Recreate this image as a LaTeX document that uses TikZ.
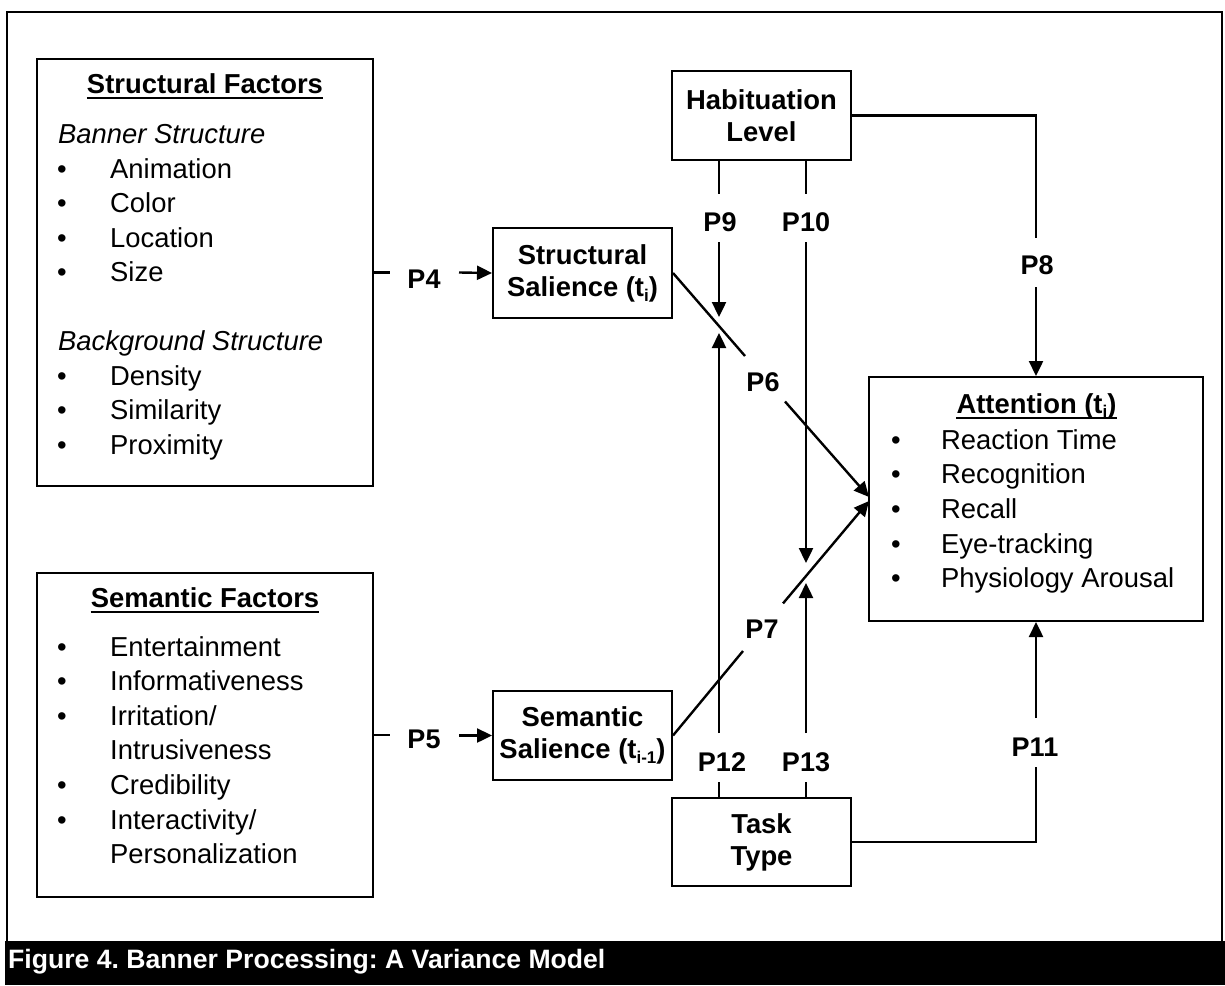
\documentclass[tikz,border=0pt]{standalone}
\usepackage{fontspec}
\setmainfont{Liberation Sans}
\usetikzlibrary{arrows.meta}
\newcommand{\subx}[1]{\raisebox{-0.18em}{\fontsize{17}{17}\selectfont #1}}
\frenchspacing
\begin{document}
\begin{tikzpicture}[x=1pt,y=-1pt,
  box/.style={draw, line width=2pt, inner sep=0pt, align=center, font=\fontsize{27.4}{32}\selectfont\bfseries},
  lbl/.style={inner sep=0pt, font=\fontsize{27}{27}\selectfont\bfseries},
  ln/.style={line width=2.4pt},
  arr/.style={line width=2.4pt, -{Triangle[length=15pt,width=14pt]}},
  txt/.style={inner sep=0pt, anchor=base west, font=\fontsize{27.4}{32}\selectfont},
  itx/.style={inner sep=0pt, anchor=base west, font=\fontsize{27.4}{32}\selectfont\itshape},
  bul/.style={inner sep=0pt, anchor=base, font=\fontsize{27.4}{32}\selectfont},
  ttl/.style={inner sep=0pt, anchor=base, font=\fontsize{27.4}{32}\selectfont\bfseries},
  uline/.style={line width=2pt},
]
\useasboundingbox (0,0) rectangle (1225,985);
% frame and caption
\draw[line width=2.4pt] (7,12) rectangle (1222,942);
\fill[black] (5,941) rectangle (1225,985);
\node[anchor=base west, inner sep=0pt, text=white, font=\fontsize{26.6}{27}\selectfont\bfseries] (cap) at (8,968) {Figure 4. Banner Processing: A Variance Model};

% boxes
\node[box, minimum width=336pt, minimum height=427pt] (sf) at (205,272.5) {};
\node[box, minimum width=336pt, minimum height=324pt] (smf) at (205,735) {};
\node[box, minimum width=179pt, minimum height=90pt] (ss) at (582.5,273) {Structural\\Salience (t\subx{i})};
\node[box, minimum width=179pt, minimum height=89pt] (sem) at (582.5,735.5) {Semantic\\Salience (t\subx{i-1})};
\node[box, minimum width=179pt, minimum height=89pt] (hab) at (761.5,115.5) {Habituation\\Level};
\node[box, minimum width=179pt, minimum height=88pt] (task) at (761.5,842) {Task\\Type};
\node[box, minimum width=334pt, minimum height=244pt] (att) at (1036,499) {};

% Structural factors content
\node[ttl] (sft) at (205,93) {Structural Factors};
\draw[uline] ([yshift=-5pt]sft.base west) -- ([yshift=-5pt]sft.base east);
\node[itx] (bs) at (58,143) {Banner Structure};
\node[bul] (b1) at (62,178) {•};   \node[txt] (t1) at (110,178) {Animation};
\node[bul] (b2) at (62,212.5) {•}; \node[txt] (t2) at (110,212.5) {Color};
\node[bul] (b3) at (62,247) {•};   \node[txt] (t3) at (110,247) {Location};
\node[bul] (b4) at (62,281.5) {•}; \node[txt] (t4) at (110,281.5) {Size};
\node[itx] (bgs) at (58,350.5) {Background Structure};
\node[bul] (b5) at (62,385) {•};   \node[txt] (t5) at (110,385) {Density};
\node[bul] (b6) at (62,419.5) {•}; \node[txt] (t6) at (110,419.5) {Similarity};
\node[bul] (b7) at (62,454) {•};   \node[txt] (t7) at (110,454) {Proximity};

% Semantic factors content
\node[ttl] (smt) at (205,607) {Semantic Factors};
\draw[uline] ([yshift=-5pt]smt.base west) -- ([yshift=-5pt]smt.base east);
\node[bul] (c1) at (62,656) {•};   \node[txt] (s1) at (110,656) {Entertainment};
\node[bul] (c2) at (62,690.6) {•}; \node[txt] (s2) at (110,690.6) {Informativeness};
\node[bul] (c3) at (62,725.2) {•}; \node[txt] (s3) at (110,725.2) {Irritation/};
\node[txt] (s3b) at (110,759.8) {Intrusiveness};
\node[bul] (c4) at (62,794.4) {•}; \node[txt] (s4) at (110,794.4) {Credibility};
\node[bul] (c5) at (62,829) {•};   \node[txt] (s5) at (110,829) {Interactivity/};
\node[txt] (s5b) at (110,863.6) {Personalization};

% Attention content
\node[ttl] (attt) at (1036.5,413) {Attention (t\subx{i})};
\draw[uline] ([yshift=-5pt]attt.base west) -- ([yshift=-5pt]attt.base east);
\node[bul] (a1) at (896,449) {•};   \node[txt] (r1) at (941,449) {Reaction Time};
\node[bul] (a2) at (896,483.7) {•}; \node[txt] (r2) at (941,483.7) {Recognition};
\node[bul] (a3) at (896,518.4) {•}; \node[txt] (r3) at (941,518.4) {Recall};
\node[bul] (a4) at (896,553.1) {•}; \node[txt] (r4) at (941,553.1) {Eye-tracking};
\node[bul] (a5) at (896,587.8) {•}; \node[txt] (r5) at (941,587.8) {Physiology Arousal};

% coordinates for gaps and free ends
\coordinate (p4a) at (390,272.5); \coordinate (p4b) at (459,272.5);
\coordinate (p5a) at (390,735);   \coordinate (p5b) at (459,735.5);
\coordinate (p9a) at (719,194);   \coordinate (p9b) at (719,242);   \coordinate (p9t) at (719,317);
\coordinate (p10a) at (806,194);  \coordinate (p10b) at (806,242);  \coordinate (p10t) at (806,563);
\coordinate (p8a) at (1036,238);  \coordinate (p8b) at (1036,287);
\coordinate (p6a) at (745,356);   \coordinate (p6b) at (785,401.5); \coordinate (p6t) at (869,497);
\coordinate (p7a) at (743,651);   \coordinate (p7b) at (783,603.4); \coordinate (p7t) at (869,501);
\coordinate (p12a) at (719,782);  \coordinate (p12b) at (719,733);  \coordinate (p12t) at (719,333);
\coordinate (p13a) at (806,782);  \coordinate (p13b) at (806,733);  \coordinate (p13t) at (806,583);
\coordinate (p11a) at (1036,767); \coordinate (p11b) at (1036,718);

% connectors
\draw[ln] (sf.east) -- (p4a);
\draw[arr] (p4b) -- (ss.west);
\draw[ln] (smf.east) -- (p5a);
\draw[arr] (p5b) -- (sem.west);
\draw[ln] (hab.south -| p9a) -- (p9a);
\draw[arr] (p9b) -- (p9t);
\draw[ln] (hab.south -| p10a) -- (p10a);
\draw[arr] (p10b) -- (p10t);
\draw[ln] (hab.east) -| (p8a);
\draw[arr] (p8b) -- (att.north);
\draw[ln] (ss.east) -- (p6a);
\draw[arr] (p6b) -- (p6t);
\draw[ln] (sem.east) -- (p7a);
\draw[arr] (p7b) -- (p7t);
\draw[ln] (task.north -| p12a) -- (p12a);
\draw[arr] (p12b) -- (p12t);
\draw[ln] (task.north -| p13a) -- (p13a);
\draw[arr] (p13b) -- (p13t);
\draw[ln] (task.east) -| (p11a);
\draw[arr] (p11b) -- (att.south);

% labels
\node[lbl] (P4) at (424,279) {P4};
\node[lbl] (P5) at (424,739) {P5};
\node[lbl] (P9) at (720,222) {P9};
\node[lbl] (P10) at (806,222) {P10};
\node[lbl] (P8) at (1037,265) {P8};
\node[lbl] (P6) at (763,382) {P6};
\node[lbl] (P7) at (762,629) {P7};
\node[lbl] (P12) at (722,762) {P12};
\node[lbl] (P13) at (806,762) {P13};
\node[lbl] (P11) at (1035,747) {P11};
\end{tikzpicture}
\end{document}
